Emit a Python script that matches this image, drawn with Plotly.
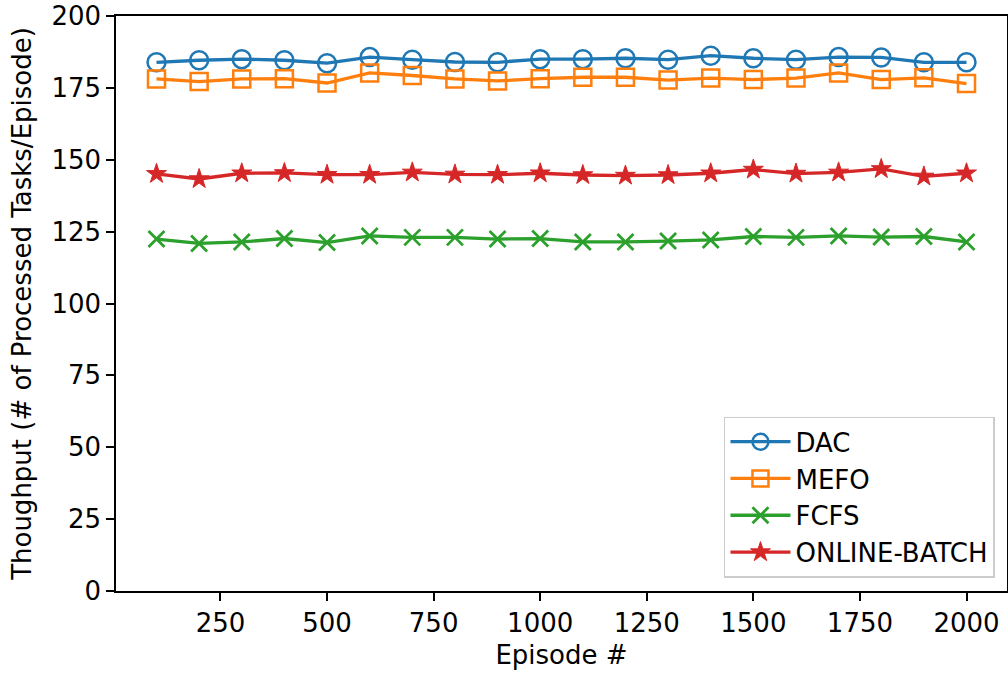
import plotly.graph_objects as go

episodes = [100, 200, 300, 400, 500, 600, 700, 800, 900, 1000,
            1100, 1200, 1300, 1400, 1500, 1600, 1700, 1800, 1900, 2000]
dac = [183.9, 184.6, 185.0, 184.6, 183.6, 185.7, 184.8, 184.0, 183.9, 185.0,
       185.0, 185.3, 184.8, 186.2, 185.3, 184.8, 185.7, 185.6, 183.9, 183.9]
mefo = [178.1, 177.2, 178.1, 178.2, 176.7, 180.2, 179.3, 178.1, 177.4, 178.2,
        178.7, 178.7, 177.7, 178.4, 177.9, 178.4, 180.2, 177.9, 178.5, 176.5]
fcfs = [122.4, 120.9, 121.4, 122.6, 121.2, 123.5, 123.0, 123.0, 122.4, 122.6,
        121.4, 121.4, 121.7, 122.1, 123.3, 123.0, 123.5, 123.1, 123.3, 121.4]
online_batch = [145.1, 143.3, 145.3, 145.4, 144.8, 144.8, 145.6, 144.9, 144.8, 145.3,
                144.7, 144.5, 144.7, 145.3, 146.6, 145.2, 145.6, 146.8, 144.2, 145.3]

x_ticks = [250, 500, 750, 1000, 1250, 1500, 1750, 2000]
y_ticks = [0, 25, 50, 75, 100, 125, 150, 175, 200]

series = [
    ("DAC", dac, "#1f77b4", dict(symbol="circle-open", size=18, line=dict(width=2.5, color="#1f77b4"))),
    ("MEFO", mefo, "#ff7f0e", dict(symbol="square-open", size=17, line=dict(width=2.5, color="#ff7f0e"))),
    ("FCFS", fcfs, "#2ca02c", dict(symbol="x-thin-open", size=16, line=dict(width=2.8, color="#2ca02c"))),
    ("ONLINE-BATCH", online_batch, "#d62728", dict(symbol="star", size=15, color="#d62728", line=dict(width=1, color="#d62728"))),
]

fig = go.Figure()
for i, (name, vals, color, marker) in enumerate(series):
    m = dict(marker)
    if "color" not in m:
        m["color"] = color
    fig.add_trace(go.Scatter(
        x=episodes, y=vals, name=name, mode="lines+markers",
        line=dict(color=color, width=3.3), marker=m,
    ))

font = "DejaVu Sans"
fs = 26
axis_common = dict(
    showline=True, linecolor="black", linewidth=1.5, mirror=True,
    ticks="outside", ticklen=8, tickwidth=1.5, tickcolor="black",
    showgrid=False, zeroline=False, ticklabeloverflow="allow", automargin=False,
    tickfont=dict(family=font, size=fs, color="black"),
    title_font=dict(family=font, size=fs, color="black"),
)

fig.update_layout(
    width=1008, height=675,
    margin=dict(l=116, r=1, t=16, b=84),
    paper_bgcolor="white", plot_bgcolor="white",
    font=dict(family=font, size=fs, color="black"),
    xaxis=dict(range=[5, 2095], tickvals=x_ticks, title_text="Episode #",
               title_standoff=9, **axis_common),
    yaxis=dict(range=[0, 200], tickvals=y_ticks,
               title_text="Thoughput (# of Processed Tasks/Episode)",
               title_standoff=12, **axis_common),
    legend=dict(
        x=0.9865, y=0.023, xanchor="right", yanchor="bottom",
        bgcolor="rgba(255,255,255,0.8)", bordercolor="#cccccc", borderwidth=1.5,
        font=dict(family=font, size=fs, color="black"),
        itemwidth=60,
    ),
)

fig.write_html("out.html")
